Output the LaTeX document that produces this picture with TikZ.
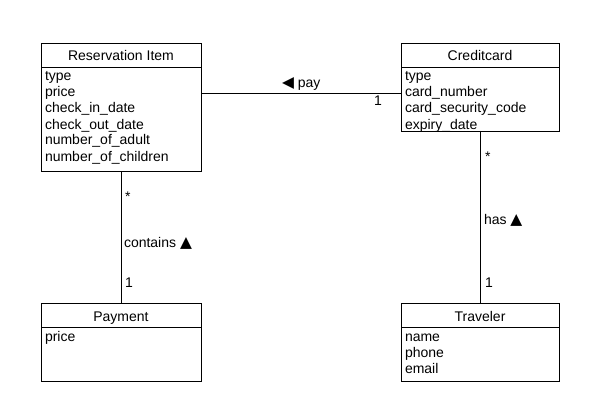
\documentclass[tikz,border=0pt]{standalone}
\usepackage{fontspec}
\setmainfont{Liberation Sans}
\newfontfamily\symfont{DejaVu Sans}
\begin{document}
\begin{tikzpicture}[x=1pt,y=-1pt,
  every node/.style={font=\fontsize{14}{16}\selectfont, inner sep=0pt, outer sep=0pt},
  classbox/.style={draw, line width=0.8pt, anchor=north west, fill=white},
  titletext/.style={anchor=base},
  attr/.style={anchor=base west},
  lbl/.style={anchor=base west},
  conn/.style={draw, line width=0.8pt},
  sep/.style={line width=0.8pt}]
\useasboundingbox[fill=white] (0,0) rectangle (594,409);

% Reservation Item
\node[classbox, minimum width=160pt, minimum height=128pt] (ri) at (41,43) {};
\node[titletext] (ri-t) at (121,61) {Reservation Item};
\draw[sep] (ri.north west) ++(0,24) -- ++(160,0);
\foreach \t [count=\i] in {type,price,check\_in\_date,check\_out\_date,number\_of\_adult,number\_of\_children}
  \node[attr] (ri-\i) at (45,65+16*\i) {\t};

% Creditcard
\node[classbox, minimum width=158pt, minimum height=88pt] (cc) at (401,43) {};
\node[titletext] (cc-t) at (480,61) {Creditcard};
\draw[sep] (cc.north west) ++(0,24) -- ++(158,0);
\foreach \t [count=\i] in {type,card\_number,card\_security\_code,expiry\_date}
  \node[attr] (cc-\i) at (405,65+16*\i) {\t};

% Payment
\node[classbox, minimum width=160pt, minimum height=78pt] (pm) at (41,303) {};
\node[titletext] (pm-t) at (121,321) {Payment};
\draw[sep] (pm.north west) ++(0,24) -- ++(160,0);
\node[attr] (pm-1) at (45,341) {price};

% Traveler
\node[classbox, minimum width=158pt, minimum height=78pt] (tr) at (401,303) {};
\node[titletext] (tr-t) at (480,321) {Traveler};
\draw[sep] (tr.north west) ++(0,24) -- ++(158,0);
\foreach \t [count=\i] in {name,phone,email}
  \node[attr] (tr-\i) at (405,325+16*\i) {\t};

% Connectors
\path (ri.north east) ++(0,50) coordinate (p1);
\draw[conn] (p1) -- (p1 -| cc.west);
\draw[conn] (ri.south) -- (pm.north);
\draw[conn] (cc.south) -- (tr.north);

% Labels
\node[lbl] (l-pay) at (282,88) {{\symfont\fontsize{15.5}{16}\selectfont ◀} pay};
\node[lbl] (l-pay1) at (374,106) {1};
\node[lbl] (l-c1) at (125,201) {*};
\node[lbl] (l-c2) at (124,247) {contains {\symfont\fontsize{15.5}{16}\selectfont ▲}};
\node[lbl] (l-c3) at (125,287) {1};
\node[lbl] (l-h1) at (485,161) {*};
\node[lbl] (l-h2) at (484,224) {has {\symfont\fontsize{15.5}{16}\selectfont ▲}};
\node[lbl] (l-h3) at (485,287) {1};
\end{tikzpicture}
\end{document}
